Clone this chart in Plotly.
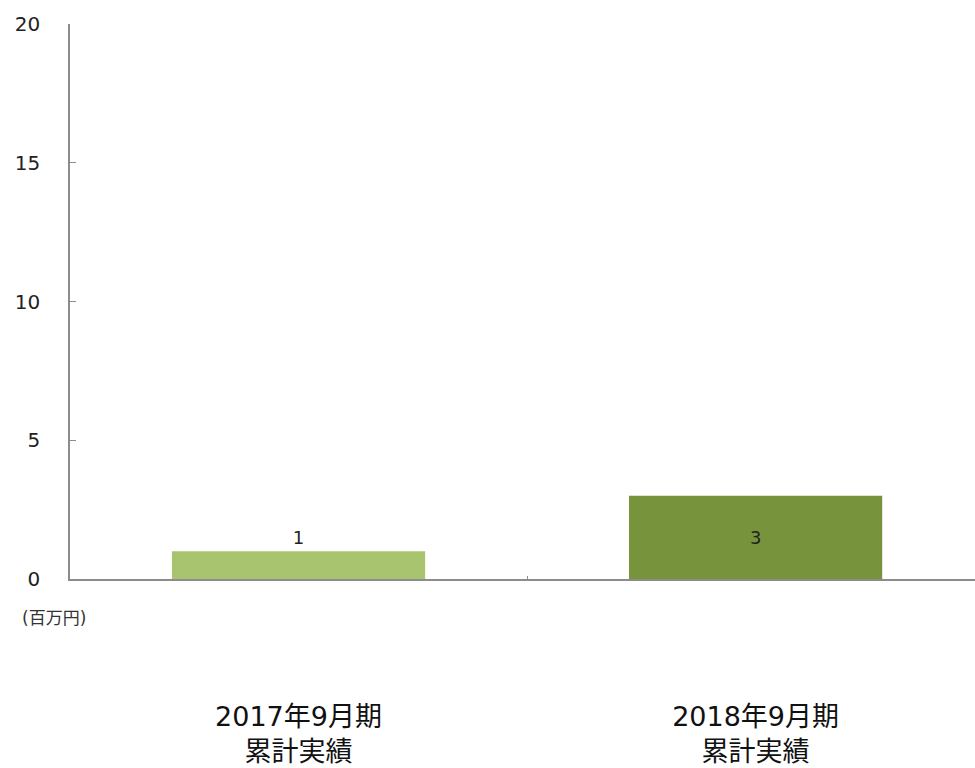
import plotly.graph_objects as go

# Cumulative results (millions of yen)
categories = ["2017年9月期<br>累計実績", "2018年9月期<br>累計実績"]
values = [1, 3]
bar_colors = ["#A9C46F", "#77933C"]
label_positions = ["outside", "inside"]
y_ticks = [0, 5, 10, 15, 20]
unit_label = "(百万円)"

FONT = "DejaVu Sans, Noto Sans CJK JP"
AXIS_COLOR = "#8C8C8C"

fig = go.Figure(
    go.Bar(
        x=categories,
        y=values,
        width=0.554,
        marker=dict(color=bar_colors, line=dict(width=0)),
        text=[str(v) for v in values],
        textposition=label_positions,
        insidetextanchor="middle",
        textfont=dict(family=FONT, size=18, color="#222222"),
        cliponaxis=False,
        showlegend=False,
    )
)

fig.update_layout(
    width=975,
    height=768,
    margin=dict(l=70, r=0, t=24, b=189),
    paper_bgcolor="white",
    plot_bgcolor="white",
    font=dict(family=FONT, color="#222222"),
)

fig.update_xaxes(
    type="category",
    range=[-0.5, 1.48],
    automargin=False,
    tickson="boundaries",
    ticks="inside",
    ticklen=3,
    tickcolor=AXIS_COLOR,
    showline=True,
    linecolor=AXIS_COLOR,
    linewidth=1.5,
    showgrid=False,
    zeroline=False,
    tickfont=dict(family=FONT, size=27, color="#111111"),
    ticklabelstandoff=113,
)

fig.update_yaxes(
    range=[0, 20],
    automargin=False,
    tickmode="array",
    tickvals=y_ticks,
    ticks="inside",
    ticklen=6,
    tickcolor=AXIS_COLOR,
    showline=True,
    linecolor=AXIS_COLOR,
    linewidth=1.5,
    showgrid=False,
    zeroline=False,
    tickfont=dict(family=FONT, size=20, color="#222222"),
    ticklabelstandoff=24,
)

fig.add_annotation(
    text=unit_label,
    xref="paper", yref="paper",
    x=-0.018, y=-0.07,
    xanchor="center", yanchor="middle",
    showarrow=False,
    font=dict(family=FONT, size=17, color="#333333"),
)

fig.write_html("out.html")
